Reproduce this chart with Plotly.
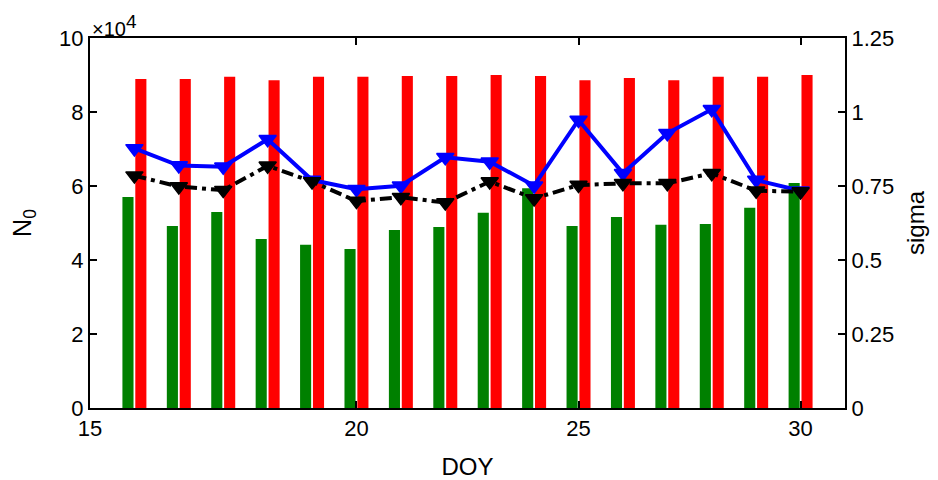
import plotly.graph_objects as go

doy = [15, 16, 17, 18, 19, 20, 21, 22, 23, 24, 25, 26, 27, 28, 29, 30]
n0_green = [57000, 49200, 53000, 45700, 44100, 43000, 48100, 48900, 52800, 59400, 49200, 51600, 49500, 49700, 54100, 60800]
n0_red = [88900, 88900, 89500, 88600, 89500, 89500, 89700, 89700, 90000, 89700, 88600, 89200, 88600, 89500, 89500, 90000]
sigma_blue = [0.877, 0.819, 0.815, 0.908, 0.770, 0.739, 0.751, 0.847, 0.832, 0.751, 0.973, 0.793, 0.928, 1.009, 0.770, 0.734]
sigma_black = [0.785, 0.748, 0.736, 0.818, 0.765, 0.699, 0.712, 0.694, 0.765, 0.708, 0.753, 0.759, 0.759, 0.793, 0.734, 0.731]
x_tickvals = [14, 20, 25, 30]
x_ticktext = ["15", "20", "25", "30"]
y_tickvals = [0, 2, 4, 6, 8, 10]
y2_tickvals = [0, 0.25, 0.5, 0.75, 1, 1.25]
y2_ticktext = ["0", "0.25", "0.5", "0.75", "1", "1.25"]

scale = 1e4
fig = go.Figure()
fig.add_trace(go.Bar(x=doy, y=[v / scale for v in n0_green], width=0.25, offset=-0.27,
                     marker=dict(color="#008000", line=dict(width=0)), yaxis="y"))
fig.add_trace(go.Bar(x=doy, y=[v / scale for v in n0_red], width=0.25, offset=0.02,
                     marker=dict(color="#ff0000", line=dict(width=0)), yaxis="y"))
fig.add_trace(go.Scatter(x=doy, y=sigma_blue, mode="lines+markers", yaxis="y2",
                         line=dict(color="#0000ff", width=4),
                         marker=dict(symbol="triangle-down", size=15, color="#0000ff",
                                     line=dict(color="#0000ff", width=1.5))))
fig.add_trace(go.Scatter(x=doy, y=sigma_black, mode="lines+markers", yaxis="y2",
                         line=dict(color="#000000", width=4, dash="12px,5px,4px,5px"),
                         marker=dict(symbol="triangle-down", size=15, color="#000000",
                                     line=dict(color="#000000", width=1.5))))

font = "Liberation Sans, Arial, sans-serif"
# page body has an 8px margin, so the figure is 8px smaller and margins shifted
fig.update_layout(
    width=930, height=472,
    margin=dict(l=82, r=93, t=30, b=72),
    paper_bgcolor="white", plot_bgcolor="white",
    showlegend=False, barmode="overlay",
    font=dict(family=font, size=22, color="black"),
    xaxis=dict(range=[14, 31], tickvals=x_tickvals, ticktext=x_ticktext,
               showline=True, linecolor="black", linewidth=2, mirror="ticks",
               ticks="inside", ticklen=7, tickwidth=1.5, tickcolor="black",
               showgrid=False, zeroline=False, automargin=False,
               title=dict(text="DOY", font=dict(size=24), standoff=20)),
    yaxis=dict(range=[0, 10], tickvals=y_tickvals,
               showline=True, linecolor="black", linewidth=2,
               ticks="inside", ticklen=7, tickwidth=1.5, tickcolor="black",
               showgrid=False, zeroline=False, automargin=False,
               title=dict(text="N<sub>0</sub>", font=dict(size=25), standoff=26)),
    yaxis2=dict(range=[0, 1.25], tickvals=y2_tickvals, ticktext=y2_ticktext,
                overlaying="y", side="right",
                showline=True, linecolor="black", linewidth=2,
                ticks="inside", ticklen=7, tickwidth=1.5, tickcolor="black",
                showgrid=False, zeroline=False, automargin=False,
                title=dict(text="sigma", font=dict(size=24), standoff=14)),
    annotations=[dict(text="×10<sup><span style='font-size:19px'>4</span></sup>",
                      xref="paper", yref="paper", x=0, y=1,
                      xanchor="left", yanchor="bottom", showarrow=False,
                      font=dict(size=20), yshift=-4)],
)
fig.write_html("out.html")
